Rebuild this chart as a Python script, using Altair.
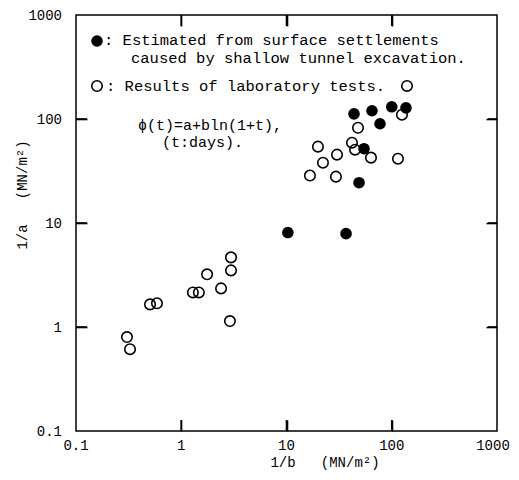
import altair as alt
import pandas as pd

# Filled circles: estimated from surface settlements (1/b, 1/a) in MN/m^2
filled_x = [43.8, 64.9, 100.0, 136.5, 77.3, 54.5, 48.9, 10.3, 36.8]
filled_y = [112.0, 120.0, 131.0, 128.0, 90.0, 51.8, 24.4, 8.1, 7.9]

# Open circles: results of laboratory tests
open_x = [139.6, 125.0, 47.8, 19.9, 41.9, 44.8, 30.2, 22.2, 63.5, 114.6, 16.7, 29.5,
          2.97, 2.97, 1.76, 2.39, 1.29, 1.47, 0.505, 0.588, 2.90, 0.305, 0.326]
open_y = [208.0, 110.0, 82.4, 54.2, 59.2, 50.7, 45.4, 38.0, 42.5, 41.5, 28.6, 27.9,
          4.67, 3.50, 3.21, 2.35, 2.15, 2.15, 1.65, 1.69, 1.14, 0.80, 0.612]

tick_values = [0.1, 1, 10, 100, 1000]
tick_labels = ["0.1", "1", "10", "100", "1000"]
inner_ticks = [1, 10, 100]

legend_filled = "Estimated from surface settlements"
legend_filled2 = "caused by shallow tunnel excavation."
legend_open = "Results of laboratory tests."
formula1 = "ϕ(t)=a+bln(1+t),"
formula2 = "(t:days)."

NB = "\u00a0"
x_title = "1/b" + NB * 3 + "(MN/m²)"
y_title = "1/a" + NB * 3 + "(MN/m²)"

W, H = 421, 416
FONT = "Liberation Mono"

df_f = pd.DataFrame({"x": filled_x, "y": filled_y})
df_o = pd.DataFrame({"x": open_x, "y": open_y})
df_lab = pd.DataFrame({"v": tick_values, "lab": tick_labels})

xs = alt.Scale(type="log", domain=[0.1, 1000], nice=False)
ys = alt.Scale(type="log", domain=[0.1, 1000], nice=False)


def tick_axis(orient):
    # tick-only axis pulled inside the frame so its ticks point inward
    return alt.Axis(orient=orient, values=inner_ticks, labels=False, domain=False, grid=False,
                    ticks=True, tickSize=11, tickWidth=1.6, tickColor="black", offset=-11,
                    title=None)


XV = alt.X("v:Q", scale=xs, axis=None)
YV = alt.Y("v:Q", scale=ys, axis=None)

open_pts = alt.Chart(df_o).mark_point(shape="circle", filled=False, size=110,
                                      strokeWidth=1.6, color="black", opacity=1).encode(
    x=alt.X("x:Q", scale=xs, axis=tick_axis("bottom")),
    y=alt.Y("y:Q", scale=ys, axis=tick_axis("left")))
filled_pts = alt.Chart(df_f).mark_point(shape="circle", filled=True, size=135,
                                        color="black", opacity=1).encode(
    x=alt.X("x:Q", scale=xs, axis=tick_axis("top")),
    y=alt.Y("y:Q", scale=ys, axis=tick_axis("right")))

# inward ticks drawn from the same tick table as the labels (inner values only)
inner = "datum.v > 0.1 && datum.v < 1000"
rule_style = dict(color="black", strokeWidth=1.6, opacity=1)
base_t = alt.Chart(df_lab).transform_filter(inner)
t_bottom = base_t.mark_rule(**rule_style).encode(x=XV, y=alt.value(H), y2=alt.value(H - 11))
t_top = base_t.mark_rule(**rule_style).encode(x=XV, y=alt.value(0), y2=alt.value(11))
t_left = base_t.mark_rule(**rule_style).encode(y=YV, x=alt.value(0), x2=alt.value(11))
t_right = base_t.mark_rule(**rule_style).encode(y=YV, x=alt.value(W), x2=alt.value(W - 9))

x_labels = alt.Chart(df_lab).transform_filter("datum.v < 1000").mark_text(
    font=FONT, fontSize=14, align="center", baseline="middle", color="black").encode(
    x=XV, y=alt.value(H + 15), text="lab:N")
x_label_last = alt.Chart(df_lab).transform_filter("datum.v >= 1000").mark_text(
    font=FONT, fontSize=14, align="center", baseline="middle", color="black", dx=-4).encode(
    x=XV, y=alt.value(H + 15), text="lab:N")
y_labels = alt.Chart(df_lab).mark_text(font=FONT, fontSize=14, align="right",
                                        baseline="middle", color="black", dy=1).encode(
    y=YV, x=alt.value(-14), text="lab:N")

one = pd.DataFrame({"a": [0]})

def txt(s, x, y, size=15.5, align="left", angle=0):
    return alt.Chart(one).mark_text(text=s, font=FONT, fontSize=size, align=align,
                                    baseline="middle", color="black", angle=angle).encode(
        x=alt.value(x), y=alt.value(y))

leg_f = alt.Chart(one).mark_point(shape="circle", filled=True, size=135, color="black",
                                  opacity=1).encode(x=alt.value(21), y=alt.value(26))
leg_o = alt.Chart(one).mark_point(shape="circle", filled=False, size=110, strokeWidth=1.6,
                                  color="black", opacity=1).encode(x=alt.value(21), y=alt.value(71))

chart = alt.layer(
    open_pts, filled_pts, t_bottom, t_top, t_left, t_right,
    x_labels, x_label_last, y_labels,
    txt(x_title, 249, H + 32, 14, "center"),
    txt(y_title, -53, 180, 14, "center", 270),
    leg_f, leg_o,
    txt(": " + legend_filled, 28, 25),
    txt(legend_filled2, 55, 43),
    txt(": " + legend_open, 30, 71),
    txt(formula1, 62, 110, 15),
    txt(formula2, 86, 127, 15),
).resolve_axis(x="independent", y="independent").properties(
    width=W, height=H,
    autosize=alt.AutoSizeParams(type="none"),
    padding={"left": 68, "top": 7, "right": 14, "bottom": 41},
    background="white",
).configure_view(stroke="black", strokeWidth=1.5)

chart.save("out.html", embed_options={"renderer": "svg", "actions": False})
